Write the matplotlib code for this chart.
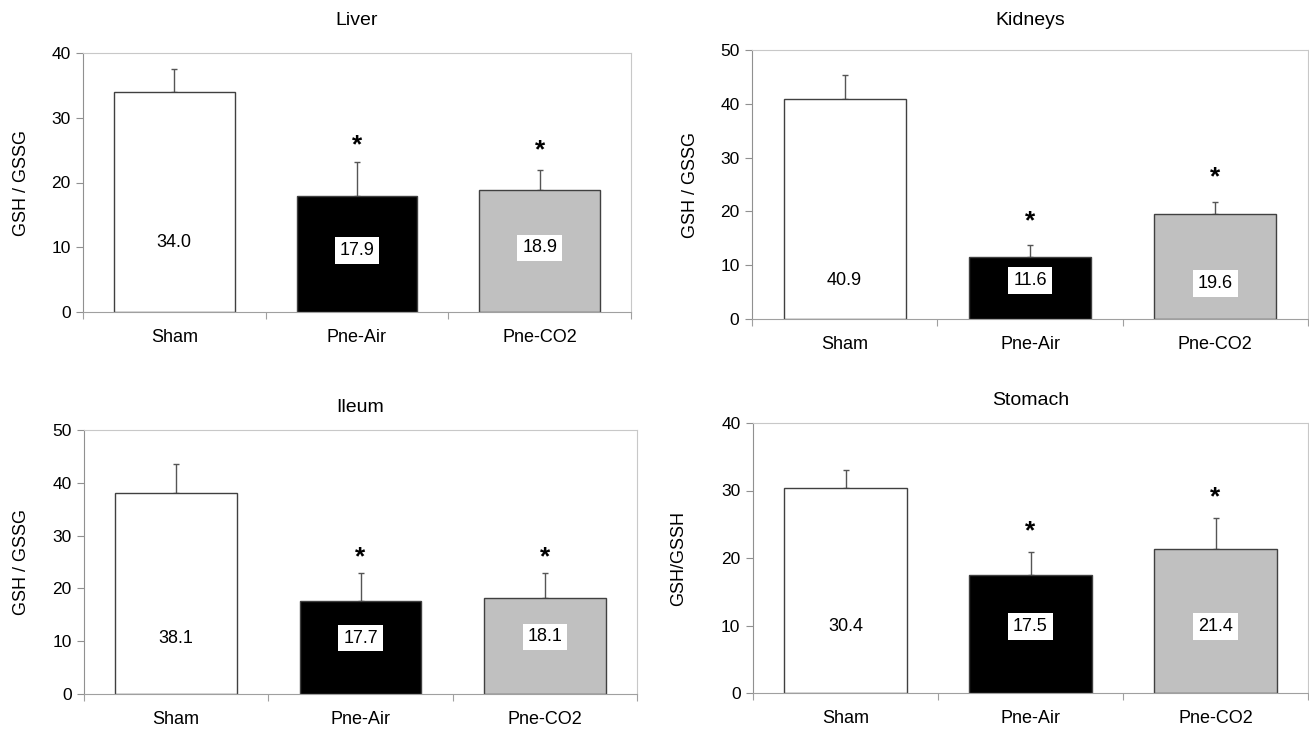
import matplotlib.pyplot as plt

plt.rcParams['font.family'] = ['Liberation Sans', 'DejaVu Sans']

groups = ['Sham', 'Pne-Air', 'Pne-CO2']
colors = ['white', 'black', '#c0c0c0']

titles = ['Liver', 'Kidneys', 'Ileum', 'Stomach']
ylabels = ['GSH / GSSG', 'GSH / GSSG', 'GSH / GSSG', 'GSH/GSSH']
ymax = [40, 50, 50, 40]

means = [[34.0, 17.9, 18.9],
         [40.9, 11.6, 19.6],
         [38.1, 17.7, 18.1],
         [30.4, 17.5, 21.4]]
err_top = [[37.5, 23.2, 21.9],
           [45.4, 13.8, 21.8],
           [43.6, 22.9, 22.9],
           [33.0, 20.9, 26.0]]
# y where the value label sits inside each bar
label_y = [[10.7, 9.5, 9.9],
           [7.1, 7.2, 6.6],
           [10.6, 10.6, 10.8],
           [9.8, 9.8, 9.8]]
# asterisk heights (None = no mark)
star_y = [[None, 25.8, 24.9],
          [None, 18.2, 26.4],
          [None, 25.8, 25.8],
          [None, 24.0, 29.0]]

W, H = 1309, 732
# axes boxes in pixels: left, top, right, bottom
boxes = [(83, 53, 631, 312),
         (752, 50, 1308, 319),
         (84, 430, 637, 694),
         (753, 423, 1308, 693)]
title_pad = [20, 18, 13, 13]
ylab_off = [53, 53, 54, 66]

fig = plt.figure(figsize=(W / 100, H / 100), dpi=100)

for i in range(4):
    l, t, r, b = boxes[i]
    ax = fig.add_axes([l / W, 1 - b / H, (r - l) / W, (b - t) / H])
    x = [0.5, 1.5, 2.5]
    errs = [e - m for e, m in zip(err_top[i], means[i])]
    ax.bar(x, means[i], width=0.66, color=colors, edgecolor='#404040', linewidth=1, zorder=2)
    ax.errorbar(x, means[i], yerr=[[0, 0, 0], errs], fmt='none', ecolor='#555555',
                elinewidth=1, capsize=2, capthick=1, zorder=1)
    for j in range(3):
        ax.text(x[j], label_y[i][j], f'{means[i][j]:.1f}', ha='center', va='center', fontsize=13,
                bbox=dict(facecolor='white', edgecolor='none', pad=3.5), zorder=3)
        if star_y[i][j] is not None:
            ax.text(x[j], star_y[i][j], '*', ha='center', va='center', fontsize=19, fontweight='bold')

    ax.set_xlim(0, 3)
    ax.set_ylim(0, ymax[i])
    ax.set_yticks(range(0, ymax[i] + 1, 10))
    ax.set_xticks([0, 1, 2, 3])
    ax.set_xticklabels([])
    ax.set_xticks(x, minor=True)
    ax.set_xticklabels(groups, minor=True)
    ax.tick_params(axis='x', which='minor', length=0, labelsize=13, pad=12)
    ax.tick_params(axis='x', which='major', length=5, color='#a0a0a0')
    ax.tick_params(axis='y', length=5, color='#909090', labelsize=12.5, pad=4)
    for s in ['top', 'right']:
        ax.spines[s].set_color('#c8c8c8')
    ax.spines['left'].set_color('#909090')
    ax.spines['bottom'].set_color('#a0a0a0')

    ax.set_title(titles[i], fontsize=14, pad=title_pad[i])
    ax.set_ylabel(ylabels[i], fontsize=13)
    ax.yaxis.set_label_coords(-ylab_off[i] / (r - l), 0.5)

plt.savefig('out.png', dpi=100)
